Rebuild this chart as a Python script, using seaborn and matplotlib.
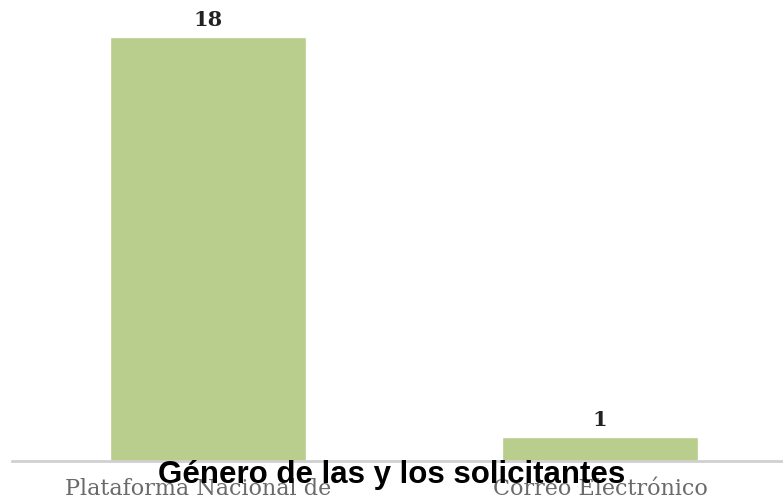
import matplotlib
matplotlib.use("Agg")
import matplotlib.pyplot as plt
import matplotlib.transforms as mtransforms
import seaborn as sns
import pandas as pd

# ── Data ───────────────────────────────────────────
CANALES = ["Plataforma Nacional de", "Correo Electrónico"]
SOLICITUDES = [18, 1]
TITULO = "Género de las y los solicitantes"

BAR_COLOR = "#b9cd8c"

df = pd.DataFrame({"canal": CANALES, "solicitudes": SOLICITUDES})

sns.set_theme(style="white")

fig = plt.figure(figsize=(7.83, 5.04), dpi=100)
# axis line starts ~12px in from the left and runs off the right edge
ax = fig.add_axes([12 / 783, 43 / 504, 771 / 783, 424 / 504])

sns.barplot(data=df, x="canal", y="solicitudes", color=BAR_COLOR,
            width=0.5, saturation=1, ax=ax)

ax.set_xlim(-0.5, 1.467)
ax.set_ylim(0, 18)
ax.set_xlabel("")
ax.set_ylabel("")
ax.set_yticks([])

# Value labels on top of bars
for cont in ax.containers:
    ax.bar_label(cont, padding=5, fontsize=15, fontweight="bold",
                 family="DejaVu Serif", color="#222222")

# Axis styling
for side in ["top", "right", "left"]:
    ax.spines[side].set_visible(False)
ax.spines["bottom"].set_color("#d0d0d0")
ax.spines["bottom"].set_linewidth(2)

ax.tick_params(axis="x", length=0, pad=12, labelsize=16, labelcolor="#6a6a6a")
for lbl, dx in zip(ax.get_xticklabels(), [-10, 0]):
    lbl.set_family("DejaVu Serif")
    lbl.set_transform(lbl.get_transform()
                      + mtransforms.ScaledTranslation(dx / 100, 0, fig.dpi_scale_trans))

fig.text(0.5, 21 / 504, TITULO, ha="center", va="baseline",
         fontsize=22.5, fontweight="bold", family="Liberation Sans", color="black")

fig.savefig("out.png", dpi=100, facecolor="white")
